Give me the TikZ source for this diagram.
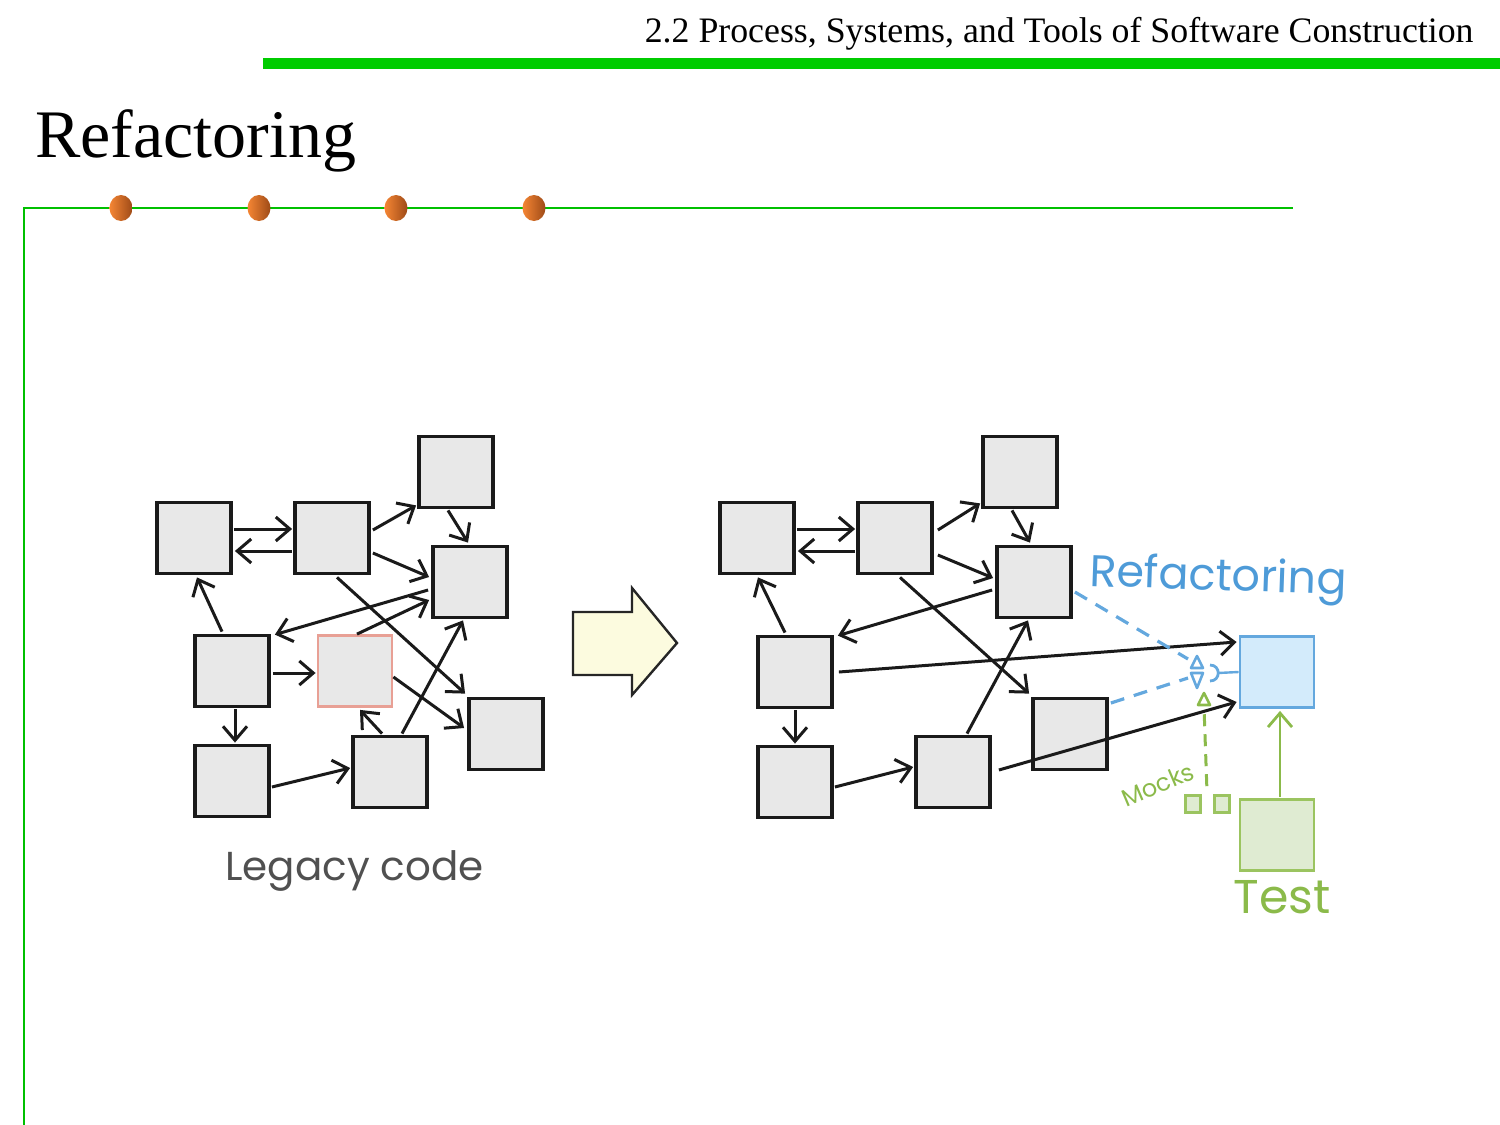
\documentclass[tikz,border=0pt]{standalone}
\usepackage{fontspec}
\setmainfont{Liberation Serif}
\newfontfamily\handfont{Poppins}
\usetikzlibrary{arrows.meta,calc}
\definecolor{boxgray}{HTML}{E8E8E8}
\definecolor{redborder}{HTML}{E8A095}
\definecolor{bluefill}{HTML}{D3EBFB}
\definecolor{blueborder}{HTML}{64A8DE}
\definecolor{greenfill}{HTML}{DFEBD2}
\definecolor{greenborder}{HTML}{9BC460}
\definecolor{bluetext}{HTML}{4E9BD8}
\definecolor{greentext}{HTML}{8BBA4A}
\definecolor{greenbar}{HTML}{00CC00}
\definecolor{thingreen}{HTML}{00C000}
\definecolor{yellowfill}{HTML}{FCFBDF}
\definecolor{legacygray}{HTML}{505050}
\definecolor{dotorange}{HTML}{F58634}
\definecolor{dotbrown}{HTML}{9E4A17}
\definecolor{inkblack}{HTML}{1A1A1A}
\begin{document}
\begin{tikzpicture}[x=0.5pt,y=-0.5pt,
  box/.style={draw=inkblack, line width=1.9pt, fill=boxgray, minimum width=37pt, minimum height=35.5pt, inner sep=0pt},
  redbox/.style={box, draw=redborder, line width=1.4pt},
  bluebox/.style={box, draw=blueborder, fill=bluefill, line width=1.4pt},
  greenbox/.style={box, draw=greenborder, fill=greenfill, line width=1.4pt},
  mockbox/.style={draw=greenborder, fill=greenfill, line width=1.3pt, minimum width=7.5pt, minimum height=8.5pt, inner sep=0pt},
  edge/.style={draw=inkblack, line width=1.5pt, -{Straight Barb[length=7pt,width=12pt,line width=1.5pt]}},
  greenedge/.style={draw=greentext, line width=1.4pt, -{Straight Barb[length=7pt,width=12pt,line width=1.4pt]}},
  bluedash/.style={draw=blueborder, line width=1.6pt, dash pattern=on 7pt off 5pt},
  greendash/.style={draw=greentext, line width=1.5pt, dash pattern=on 6pt off 4pt},
  hand/.style={font=\handfont}
]
\useasboundingbox (0,0) rectangle (1500,1125);

% header
\node[anchor=base east, inner sep=0pt, font=\fontsize{17.9}{20}\selectfont] (hdr) at (1474,42) {2.2 Process, Systems, and Tools of Software Construction};
\fill[greenbar] (263,58) rectangle (1500,69);
\node[anchor=base west, inner sep=0pt, font=\fontsize{34}{40}\selectfont] (title) at (35,157) {Refactoring};
\draw[thingreen, line width=1pt] (24,1125) -- (24,208) -- (1293,208);
\foreach \xx in {121,259,396,534}{
  \shade[left color=dotorange, right color=dotbrown] (\xx,208) ellipse [x radius=11.5, y radius=13];
}

% left graph
\node[box] (A) at (194,538) {};
\node[box] (B) at (332,538) {};
\node[box] (C) at (456,472) {};
\node[box] (D) at (470,582) {};
\node[box] (E) at (232,671) {};
\node[redbox] (F) at (355,671) {};
\node[box] (G) at (506,734) {};
\node[box] (H) at (232,781) {};
\node[box] (I) at (390,772) {};

\draw[edge] ($(A.east)+(1,-9)$) -- ($(B.west)+(-1,-9)$);
\draw[edge] ($(B.west)+(-1,13)$) -- ($(A.east)+(2,13)$);
\draw[edge] ($(B.east)+(2,-8)$) -- ($(C.south west)+(-1,-4)$);
\draw[edge] ($(C.south)+(-8,1)$) -- ($(D.north)+(-2,-2)$);
\draw[edge] ($(B.east)+(2,15)$) -- ($(D.west)+(-2,-5)$);
\draw[edge] ($(B.south)+(5,2)$) -- ($(G.north west)+(-2,-3)$);
\draw[edge] ($(D.west)+(-3,8)$) -- ($(E.north east)+(4,1)$);
\draw[edge] ($(F.north)+(2,0)$) -- ($(D.west)+(-2,18)$);
\draw[edge] ($(E.north)+(-10,-2)$) -- ($(A.south)+(3,2)$);
\draw[edge] ($(E.east)+(2,2)$) -- ($(F.west)+(-1,2)$);
\draw[edge] ($(E.south)+(3,1)$) -- ($(H.north)+(3,-1)$);
\draw[edge] ($(F.east)+(0,6)$) -- ($(G.west)+(-3,-6)$);
\draw[edge] ($(I.north)+(-8,-1)$) -- ($(F.south)+(5,2)$);
\draw[edge] ($(I.north)+(12,-1)$) -- ($(D.south)+(-7,1)$);
\draw[edge] ($(H.east)+(1,6)$) -- ($(I.west)+(-1,-4)$);

\node[anchor=base west, inner sep=0pt, text=legacygray, hand] (legacy) at (225,880) {\resizebox{129pt}{!}{Legacy code}};

% big arrow
\draw[fill=yellowfill, draw=black!85, line width=1.2pt, line join=miter]
  (573,612) -- (632,612) -- (632,588) -- (677,643) -- (632,695) -- (632,675) -- (573,675) -- cycle;

% right graph
\node[box] (Ap) at (757,538) {};
\node[box] (Bp) at (895,538) {};
\node[box] (Cp) at (1020,472) {};
\node[box] (Dp) at (1034,582) {};
\node[box] (Ep) at (795,672) {};
\node[box] (Hp) at (795,782) {};
\node[box] (Ip) at (953,772) {};
\node[box] (Gp) at (1070,734) {};
\node[bluebox] (blue) at (1277,672) {};
\node[greenbox] (test) at (1277,835) {};
\node[mockbox] (mock1) at (1193,804) {};
\node[mockbox] (mock2) at (1222,804) {};

\draw[edge] ($(Ap.east)+(1,-9)$) -- ($(Bp.west)+(-1,-9)$);
\draw[edge] ($(Bp.west)+(-1,13)$) -- ($(Ap.east)+(2,13)$);
\draw[edge] ($(Bp.east)+(4,-8)$) -- ($(Cp.south west)+(-1,-6)$);
\draw[edge] ($(Cp.south)+(-8,1)$) -- ($(Dp.north)+(-4,-2)$);
\draw[edge] ($(Bp.east)+(4,17)$) -- ($(Dp.west)+(-2,-4)$);
\draw[edge] ($(Bp.south)+(5,2)$) -- ($(Gp.north west)+(-2,-3)$);
\draw[edge] ($(Dp.west)+(-3,8)$) -- ($(Ep.north east)+(4,1)$);
\draw[edge] ($(Ep.north)+(-10,-2)$) -- ($(Ap.south)+(1,2)$);
\draw[edge] ($(Ep.south)+(0,1)$) -- ($(Hp.north)+(0,-1)$);
\draw[edge] ($(Hp.east)+(1,5)$) -- ($(Ip.west)+(-1,-5)$);
\draw[edge] ($(Ip.north)+(14,-1)$) -- ($(Dp.south)+(-6,1)$);
\draw[edge] ($(Ep.east)+(5,0)$) -- ($(blue.west)+(-2,-30)$);
\draw[edge] ($(Ip.east)+(7,-2)$) -- ($(blue.west)+(-2,30)$);
\draw[greenedge] ($(test.north)+(3,-1)$) -- ($(blue.south)+(3,2)$);

% refactoring interface
\coordinate (sockup) at (1188,659);
\coordinate (socklo) at (1188,678);
\coordinate (sock) at (1218,673);
\draw[bluedash] ($(Dp.east)+(2,10)$) -- (sockup);
\draw[bluedash] ($(Gp.east)+(2,-31)$) -- (socklo);
\draw[draw=blueborder, line width=1.2pt] (blue.west) -- (sock);
\draw[draw=blueborder, line width=1.4pt] (1210,665) .. controls (1221,665) and (1221,681) .. (1210,681);
\draw[draw=blueborder, line width=1.3pt, line join=round] (1197,656) -- (1203,668) -- (1191,668) -- cycle;
\draw[draw=blueborder, line width=1.3pt, line join=round] (1191,673) -- (1203,673) -- (1197,688) -- cycle;

% mocks
\coordinate (mocktop) at (1204,707);
\draw[greendash] ($(mock1.north east)+(5,-8)$) -- (mocktop);
\draw[draw=greentext, line width=1.3pt, line join=round] (1204,693) -- (1210,705) -- (1198,705) -- cycle;

% labels
\node[anchor=base west, inner sep=0pt, text=bluetext, hand, rotate=-2] (reflabel) at (1089,586) {\resizebox{128.5pt}{!}{Refactoring}};
\node[anchor=base west, inner sep=0pt, text=greentext, hand, rotate=23] (mocklabel) at (1126,808) {\resizebox{38pt}{!}{Mocks}};
\node[anchor=base west, inner sep=0pt, text=greentext, hand] (testlabel) at (1233,913) {\resizebox{48.5pt}{!}{Test}};
\end{tikzpicture}
\end{document}
